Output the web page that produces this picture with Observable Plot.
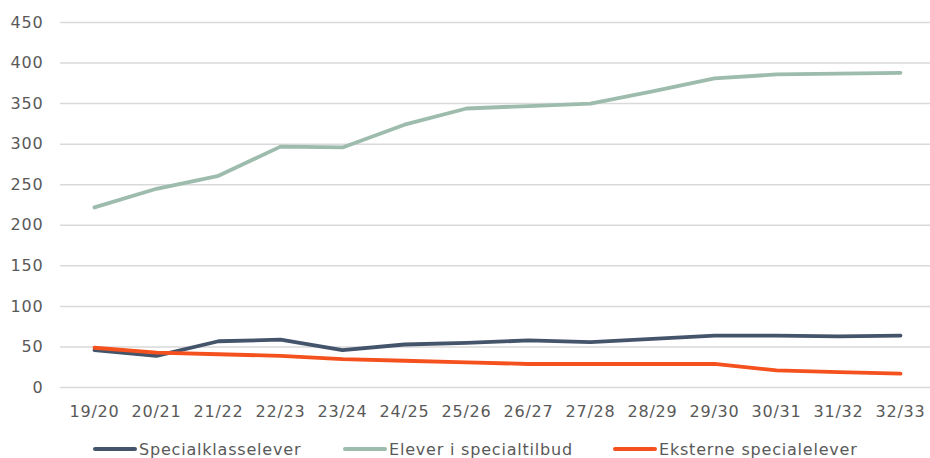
<!DOCTYPE html>
<html>
<head>
<meta charset="utf-8">
<script src="https://cdn.jsdelivr.net/npm/d3@7"></script>
<script src="https://cdn.jsdelivr.net/npm/@observablehq/plot@0.6"></script>
<style>
  body { margin: 0; background: #fff; }
  #wrap { width: 930px; height: 458px; position: relative; overflow: hidden; }
  #legend { position: absolute; left: 0; top: 430px; width: 930px; height: 28px;
    font-family: "DejaVu Sans", sans-serif; font-size: 16px; letter-spacing: 0.8px; color: #595959; }
  .item { position: absolute; top: 9px; height: 20px; display: flex; align-items: center; white-space: nowrap; }
  .sw { width: 44px; height: 4px; border-radius: 2px; margin-right: 2px; }
</style>
</head>
<body>
<div id="wrap"><div id="chart"></div><div id="legend"></div></div>
<script>
const categories = ["19/20","20/21","21/22","22/23","23/24","24/25","25/26","26/27","27/28","28/29","29/30","30/31","31/32","32/33"];
const specialklasselever = [46, 39, 57, 59, 46, 53, 55, 58, 56, 60, 64, 64, 63, 64];
const eleverISpecialtilbud = [222, 245, 261, 297, 296, 324, 344, 347, 350, 365, 381, 386, 387, 388];
const eksterneSpecialelever = [49, 43, 41, 39, 35, 33, 31, 29, 29, 29, 29, 21, 19, 17];
const seriesNames = ["Specialklasselever", "Elever i specialtilbud", "Eksterne specialelever"];
const seriesColors = ["#44546a", "#9dbcad", "#f4511e"];
const yTicks = [0, 50, 100, 150, 200, 250, 300, 350, 400, 450];

const seriesValues = [specialklasselever, eleverISpecialtilbud, eksterneSpecialelever];
const data = [];
seriesNames.forEach((name, s) => {
  categories.forEach((c, i) => data.push({ series: name, year: c, value: seriesValues[s][i] }));
});

const chart = Plot.plot({
  width: 930,
  height: 430,
  marginLeft: 60,
  marginRight: 0,
  marginTop: 22,
  marginBottom: 43,
  style: { fontFamily: "DejaVu Sans, sans-serif", fontSize: "16px", letterSpacing: "0.8px", color: "#595959", background: "#fff" },
  x: { type: "point", domain: categories, range: [91, 902], padding: 0, align: 0.5, label: null },
  y: { domain: [0, 450], label: null },
  color: { domain: seriesNames, range: seriesColors },
  marks: [
    Plot.gridY(yTicks, { stroke: "#d9d9d9", strokeOpacity: 1, strokeWidth: 1.5 }),
    Plot.axisY(yTicks, { tickSize: 0, tickPadding: 17, label: null, fill: "#595959" }),
    Plot.axisX(categories, { tickSize: 0, tickPadding: 18, label: null, fill: "#595959" }),
    Plot.lineY(data, { x: "year", y: "value", z: "series", stroke: "series", strokeWidth: 3.8, strokeLinejoin: "round", strokeLinecap: "round" })
  ]
});
document.getElementById("chart").appendChild(chart);

const legendX = [93, 343, 613];
const legend = document.getElementById("legend");
seriesNames.forEach((name, i) => {
  const it = document.createElement("div");
  it.className = "item";
  it.style.left = legendX[i] + "px";
  const sw = document.createElement("div");
  sw.className = "sw";
  sw.style.background = seriesColors[i];
  const t = document.createElement("span");
  t.textContent = name;
  it.appendChild(sw); it.appendChild(t);
  legend.appendChild(it);
});
</script>
</body>
</html>
